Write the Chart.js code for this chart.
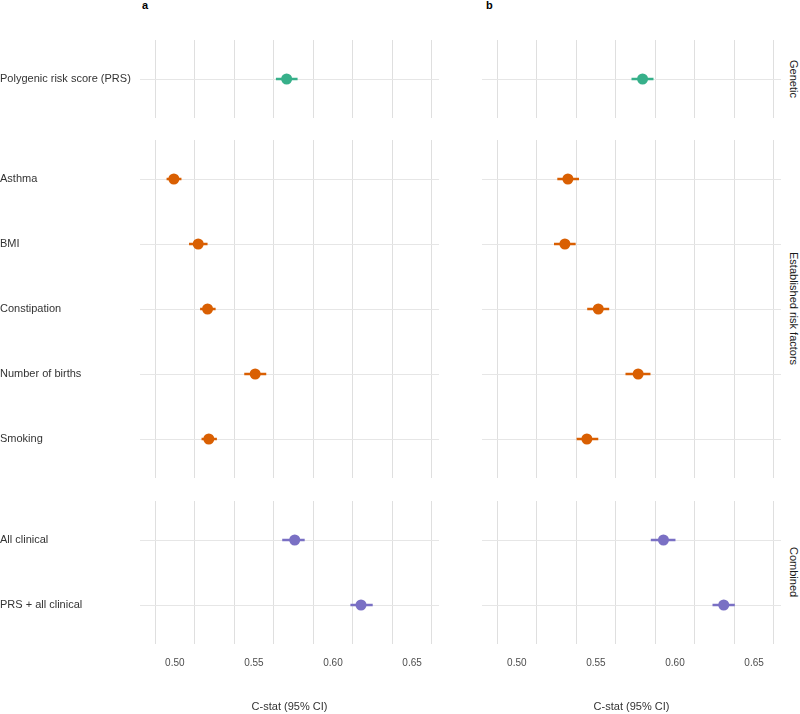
<!DOCTYPE html>
<html>
<head>
<meta charset="utf-8">
<script src="https://cdn.jsdelivr.net/npm/chart.js@4.4.0/dist/chart.umd.min.js"></script>
<style>
    body { margin: 0; background: #fff; font-family: "Liberation Sans", Arial, sans-serif; }
    #wrap { position: relative; width: 800px; height: 714px; overflow: hidden; }
    canvas { position: absolute; }
    .tag { position: absolute; font-weight: bold; font-size: 11px; line-height: 13px; color: #000; }
    .strip { position: absolute; left: 786px; width: 16px; display: flex; align-items: center; justify-content: center;
             writing-mode: vertical-rl; font-size: 11px; color: #1a1a1a; white-space: nowrap; }
</style>
</head>
<body>
<div id="wrap">
    <div class="tag" style="left:142px;top:-1px">a</div>
    <div class="tag" style="left:486px;top:-1px">b</div>
</div>
<script>
const rowLabels = ['Polygenic risk score (PRS)', 'Asthma', 'BMI', 'Constipation', 'Number of births', 'Smoking', 'All clinical', 'PRS + all clinical'];
const rowGroup = ['Genetic', 'Established risk factors', 'Established risk factors', 'Established risk factors',
    'Established risk factors', 'Established risk factors', 'Combined', 'Combined'];
const groupNames = ['Genetic', 'Established risk factors', 'Combined'];
const groupColors = ['#37b08a', '#d95f02', '#7a70c4'];

// panel a
const estA  = [0.5707, 0.4994, 0.5148, 0.5207, 0.5508, 0.5215, 0.5758, 0.6177];
const lowA  = [0.5639, 0.4948, 0.5090, 0.5160, 0.5439, 0.5169, 0.5679, 0.6110];
const highA = [0.5776, 0.5042, 0.5207, 0.5258, 0.5578, 0.5266, 0.5821, 0.6251];
// panel b
const estB  = [0.5795, 0.5323, 0.5304, 0.5515, 0.5767, 0.5443, 0.5927, 0.6308];
const lowB  = [0.5725, 0.5256, 0.5235, 0.5445, 0.5687, 0.5378, 0.5847, 0.6237];
const highB = [0.5864, 0.5393, 0.5372, 0.5584, 0.5845, 0.5515, 0.6003, 0.6378];

const xTicks = [0.50, 0.55, 0.60, 0.65];
const gridTicks = xTicks.flatMap(t => [t - 0.0125, t + 0.0125]);

Chart.defaults.font.family = '"Liberation Sans", Arial, sans-serif';

const panelTops = [40, 140, 501];
const panelHeights = [78, 338, 143];
const xAxisHeight = 70;
const columns = [
    { left: 0, width: 439, yWidth: 140, est: estA, low: lowA, high: highA, showLabels: true },
    { left: 482, width: 299, yWidth: 0, est: estB, low: lowB, high: highB, showLabels: false }
];

const wrap = document.getElementById('wrap');

function makePanel(col, g) {
    const idx = rowGroup.map((r, i) => r === groupNames[g] ? i : -1).filter(i => i >= 0);
    const labels = idx.map(i => rowLabels[i]);
    const isBottom = g === groupNames.length - 1;
    const color = groupColors[g];

    const canvas = document.createElement('canvas');
    canvas.width = col.width;
    canvas.height = panelHeights[g] + (isBottom ? xAxisHeight : 0);
    canvas.style.left = col.left + 'px';
    canvas.style.top = panelTops[g] + 'px';
    wrap.appendChild(canvas);

    const datasets = [{
        type: 'scatter',
        data: idx.map((i, k) => ({ x: col.est[i], y: k })),
        backgroundColor: color,
        borderWidth: 0,
        pointRadius: 5.5,
        pointHoverRadius: 5.5
    }];
    idx.forEach((i, k) => datasets.push({
        type: 'line',
        data: [{ x: col.low[i], y: k }, { x: col.high[i], y: k }],
        borderColor: color,
        borderWidth: 2.5,
        pointRadius: 0,
        borderCapStyle: 'butt'
    }));

    new Chart(canvas, {
        type: 'scatter',
        data: { datasets },
        options: {
            responsive: false,
            animation: false,
            layout: { padding: 0, autoPadding: false },
            plugins: { legend: { display: false }, tooltip: { enabled: false } },
            scales: {
                x: {
                    type: 'linear', min: 0.478, max: 0.667, position: 'bottom',
                    afterBuildTicks: s => { s.ticks = gridTicks.map(v => ({ value: v })); },
                    afterFit: s => { s.height = 0; },
                    ticks: { display: false },
                    border: { display: false },
                    grid: { color: '#dfdfdf', lineWidth: 1, drawTicks: false }
                },
                xLab: {
                    type: 'linear', min: 0.478, max: 0.667, position: 'bottom', display: isBottom,
                    afterBuildTicks: s => { s.ticks = xTicks.map(v => ({ value: v })); },
                    afterFit: s => {
                        s.height = isBottom ? xAxisHeight : 0;
                        s.paddingLeft = 0; s.paddingRight = 0;
                    },
                    grid: { display: false, drawTicks: false },
                    border: { display: false },
                    ticks: {
                        padding: 13, color: '#4d4d4d', font: { size: 10 },
                        maxRotation: 0, autoSkip: false,
                        callback: v => v.toFixed(2)
                    },
                    title: { display: true, text: 'C-stat (95% CI)', padding: 0, color: '#333', font: { size: 11 } }
                },
                y: {
                    type: 'linear', reverse: true, min: -0.6, max: labels.length - 0.4,
                    afterBuildTicks: s => { s.ticks = labels.map((_, k) => ({ value: k })); },
                    afterFit: s => {
                        s.width = col.yWidth;
                        s.paddingTop = 0; s.paddingBottom = 0;
                    },
                    border: { display: false },
                    grid: { color: '#e6e6e6', lineWidth: 1, drawTicks: false },
                    ticks: {
                        display: col.showLabels, color: '#333', font: { size: 11 },
                        crossAlign: 'far', padding: 0, autoSkip: false,
                        callback: v => labels[v]
                    }
                }
            }
        }
    });
}

columns.forEach(col => groupNames.forEach((_, g) => makePanel(col, g)));

groupNames.forEach((name, g) => {
    const d = document.createElement('div');
    d.className = 'strip';
    d.style.top = panelTops[g] + 'px';
    d.style.height = panelHeights[g] + 'px';
    d.textContent = name;
    wrap.appendChild(d);
});
</script>
</body>
</html>
